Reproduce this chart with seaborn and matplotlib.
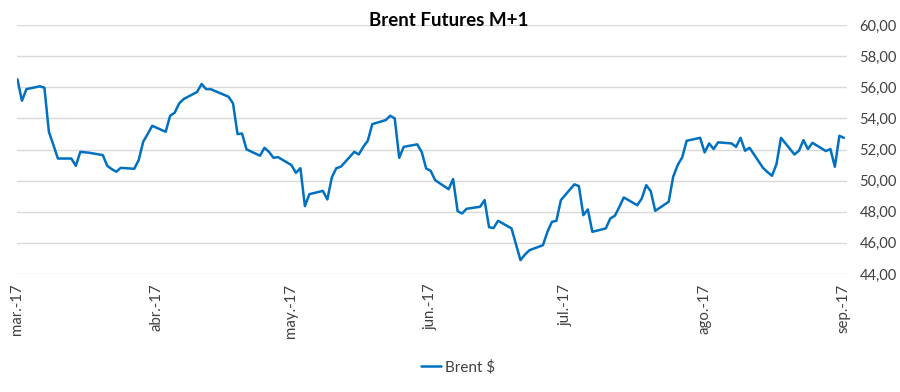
import matplotlib
matplotlib.use("Agg")
import matplotlib.pyplot as plt
import matplotlib.dates as mdates
import seaborn as sns
import pandas as pd
import numpy as np

# ---- data ----
dates = [
    "2017-03-01", "2017-03-02", "2017-03-03", "2017-03-06", "2017-03-07", "2017-03-08",
    "2017-03-09", "2017-03-10", "2017-03-13", "2017-03-14", "2017-03-15", "2017-03-16",
    "2017-03-17", "2017-03-20", "2017-03-21", "2017-03-22", "2017-03-23", "2017-03-24",
    "2017-03-27", "2017-03-28", "2017-03-29", "2017-03-30", "2017-03-31",
    "2017-04-03", "2017-04-04", "2017-04-05", "2017-04-06", "2017-04-07",
    "2017-04-10", "2017-04-11", "2017-04-12", "2017-04-13",
    "2017-04-17", "2017-04-18", "2017-04-19", "2017-04-20", "2017-04-21",
    "2017-04-24", "2017-04-25", "2017-04-26", "2017-04-27", "2017-04-28",
    "2017-05-01", "2017-05-02", "2017-05-03", "2017-05-04", "2017-05-05",
    "2017-05-08", "2017-05-09", "2017-05-10", "2017-05-11", "2017-05-12",
    "2017-05-15", "2017-05-16", "2017-05-17", "2017-05-18", "2017-05-19",
    "2017-05-22", "2017-05-23", "2017-05-24", "2017-05-25", "2017-05-26",
    "2017-05-29", "2017-05-30", "2017-05-31", "2017-06-01", "2017-06-02",
    "2017-06-05", "2017-06-06", "2017-06-07", "2017-06-08", "2017-06-09",
    "2017-06-12", "2017-06-13", "2017-06-14", "2017-06-15", "2017-06-16",
    "2017-06-19", "2017-06-20", "2017-06-21", "2017-06-22", "2017-06-23",
    "2017-06-26", "2017-06-27", "2017-06-28", "2017-06-29", "2017-06-30",
    "2017-07-03", "2017-07-04", "2017-07-05", "2017-07-06", "2017-07-07",
    "2017-07-10", "2017-07-11", "2017-07-12", "2017-07-13", "2017-07-14",
    "2017-07-17", "2017-07-18", "2017-07-19", "2017-07-20", "2017-07-21",
    "2017-07-24", "2017-07-25", "2017-07-26", "2017-07-27", "2017-07-28",
    "2017-07-31", "2017-08-01", "2017-08-02", "2017-08-03", "2017-08-04",
    "2017-08-07", "2017-08-08", "2017-08-09", "2017-08-10", "2017-08-11",
    "2017-08-14", "2017-08-15", "2017-08-16", "2017-08-17", "2017-08-18",
    "2017-08-21", "2017-08-22", "2017-08-23", "2017-08-24", "2017-08-25",
    "2017-08-28", "2017-08-29", "2017-08-30", "2017-08-31", "2017-09-01",
]
brent = [
    56.51, 55.13, 55.88, 56.06, 55.97, 53.14,
    52.30, 51.42, 51.42, 50.95, 51.85, 51.82,
    51.79, 51.64, 50.95, 50.74, 50.57, 50.82,
    50.76, 51.32, 52.50, 53.00, 53.52,
    53.14, 54.17, 54.36, 54.96, 55.24,
    55.70, 56.21, 55.88, 55.88,
    55.39, 54.96, 52.99, 53.03, 52.01,
    51.60, 52.11, 51.85, 51.47, 51.51,
    51.00, 50.50, 50.80, 48.36, 49.13,
    49.34, 48.79, 50.21, 50.80, 50.89,
    51.85, 51.68, 52.17, 52.56, 53.63,
    53.89, 54.17, 54.00, 51.47, 52.17,
    52.33, 51.85, 50.78, 50.63, 50.03,
    49.45, 50.10, 48.04, 47.89, 48.19,
    48.32, 48.75, 47.01, 46.95, 47.42,
    46.93, 45.90, 44.89, 45.25, 45.53,
    45.85, 46.71, 47.35, 47.42, 48.75,
    49.76, 49.65, 47.78, 48.15, 46.71,
    46.93, 47.57, 47.74, 48.30, 48.92,
    48.42, 48.85, 49.71, 49.32, 48.06,
    48.64, 50.25, 51.00, 51.49, 52.56,
    52.75, 51.81, 52.39, 52.03, 52.46,
    52.39, 52.17, 52.75, 51.92, 52.11,
    50.82, 50.55, 50.31, 51.06, 52.75,
    51.68, 51.92, 52.60, 52.03, 52.43,
    51.90, 52.03, 50.89, 52.88, 52.75,
]
month_ticks = ["2017-03-01", "2017-04-01", "2017-05-01", "2017-06-01",
               "2017-07-01", "2017-08-01", "2017-09-01"]
month_labels = ["mar.-17", "abr.-17", "may.-17", "jun.-17", "jul.-17", "ago.-17", "sep.-17"]
y_ticks = [44, 46, 48, 50, 52, 54, 56, 58, 60]
title = "Brent Futures M+1"
series_name = "Brent $"

df = pd.DataFrame({"Fecha": pd.to_datetime(dates), "Valor": brent, "Serie": series_name})

sns.set_style("white")
plt.rcParams["font.family"] = ["Lato", "DejaVu Sans"]

fig = plt.figure(figsize=(9, 3.92), dpi=100)
ax = fig.add_axes([17 / 900, 118 / 392, 830 / 900, 249 / 392])

sns.lineplot(data=df, x="Fecha", y="Valor", hue="Serie", palette=["#0070C0"],
             linewidth=1.8, ax=ax, legend=True)

ax.set_ylim(44, 60)
ax.set_yticks(y_ticks)
ax.set_yticklabels([f"{v:.2f}".replace(".", ",") for v in y_ticks])
ax.yaxis.tick_right()
ax.tick_params(axis="y", length=0, pad=9, labelsize=10.5, labelcolor="#404040")

tick_dates = pd.to_datetime(month_ticks)
ax.set_xlim(mdates.date2num(pd.Timestamp("2017-03-01")) - 0.1,
            mdates.date2num(pd.Timestamp("2017-09-01")) + 0.7)
ax.set_xticks(tick_dates)
ax.set_xticklabels(month_labels, rotation=90, va="top", ha="center")
ax.tick_params(axis="x", length=0, pad=7, labelsize=10.8, labelcolor="#404040")

ax.grid(axis="y", color="#D9D9D9", linewidth=1)
ax.grid(axis="x", visible=False)
for s in ax.spines.values():
    s.set_visible(False)
ax.set_xlabel("")
ax.set_ylabel("")

fig.text(449 / 900, 1 - 20 / 392, title, ha="center", va="center",
         fontsize=13.5, fontweight="bold", color="#000000")

handles, labels = ax.get_legend_handles_labels()
ax.legend_.remove()
fig.legend(handles, labels, loc="center", bbox_to_anchor=(458 / 900, 1 - 367 / 392),
           frameon=False, fontsize=11, handlelength=1.3, handletextpad=0.3,
           labelcolor="#404040")

fig.savefig("out.png", dpi=100)
